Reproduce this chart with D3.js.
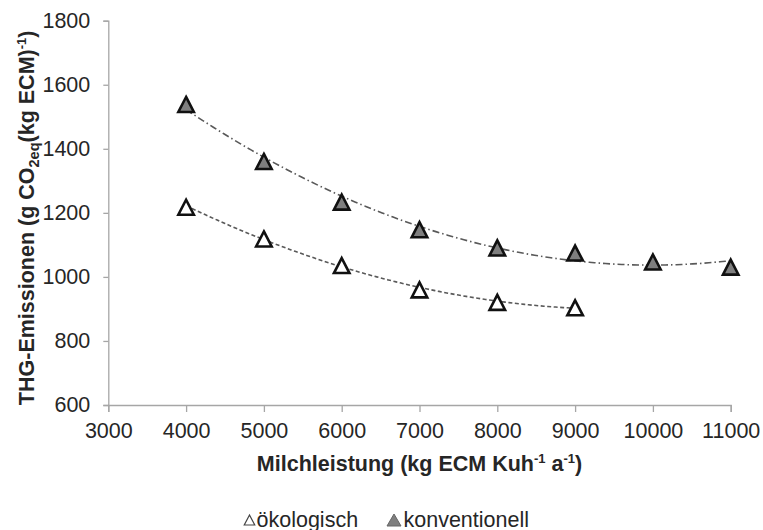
<!DOCTYPE html>
<html>
<head>
<meta charset="utf-8">
<script src="https://cdn.jsdelivr.net/npm/d3@7"></script>
<style>
  html, body { margin: 0; padding: 0; background: #fff; }
  svg { display: block; font-family: "Liberation Sans", Arial, sans-serif; }
</style>
</head>
<body>
<div id="chart"></div>
<script>
// ---- data ----
const milkYield = [4000, 5000, 6000, 7000, 8000, 9000, 10000, 11000];
const oekologisch = [1219, 1120, 1037, 961, 922, 905];
const konventionell = [1540, 1362, 1235, 1149, 1092, 1076, 1048, 1032];
const xTicks = [3000, 4000, 5000, 6000, 7000, 8000, 9000, 10000, 11000];
const yTicks = [600, 800, 1000, 1200, 1400, 1600, 1800];
const seriesNames = ["ökologisch", "konventionell"];

const W = 763, H = 530;
const svg = d3.select("#chart").append("svg").attr("width", W).attr("height", H);
svg.append("rect").attr("width", W).attr("height", H).attr("fill", "#fff");

const x = d3.scaleLinear().domain([3000, 11000]).range([108.3, 730.7]);
const y = d3.scaleLinear().domain([600, 1800]).range([405, 20.7]);

const textColor = "#262626";
const axisColor = "#a6a6a6";

// axes
const xAxis = svg.append("g").attr("transform", `translate(0,${y(600)})`)
  .call(d3.axisBottom(x).tickValues(xTicks).tickSize(7).tickPadding(11).tickFormat(d3.format("d")));
const yAxis = svg.append("g").attr("transform", `translate(${x(3000)},0)`)
  .call(d3.axisLeft(y).tickValues(yTicks).tickSize(5).tickPadding(13).tickFormat(d3.format("d")));
[xAxis, yAxis].forEach(g => {
  g.select(".domain").attr("stroke", axisColor).attr("stroke-width", 1.3);
  g.selectAll(".tick line").attr("stroke", axisColor).attr("stroke-width", 1.3);
  g.selectAll(".tick text").attr("fill", textColor).style("font-size", "21.5px")
    .style("font-family", "'Liberation Sans', Arial, sans-serif");
});

// quadratic least-squares trend (Excel polynomial order 2)
function quadFit(xs, ys) {
  const n = xs.length;
  const mx = d3.mean(xs);
  const u = xs.map(v => (v - mx) / 1000);
  let s = [0,0,0,0,0], t = [0,0,0];
  for (let i = 0; i < n; i++) {
    for (let k = 0; k < 5; k++) s[k] += Math.pow(u[i], k);
    for (let k = 0; k < 3; k++) t[k] += ys[i] * Math.pow(u[i], k);
  }
  const A = [[s[0], s[1], s[2], t[0]], [s[1], s[2], s[3], t[1]], [s[2], s[3], s[4], t[2]]];
  for (let i = 0; i < 3; i++) {
    for (let j = i + 1; j < 3; j++) {
      const f = A[j][i] / A[i][i];
      for (let k = i; k < 4; k++) A[j][k] -= f * A[i][k];
    }
  }
  const c = [0,0,0];
  for (let i = 2; i >= 0; i--) {
    let v = A[i][3];
    for (let k = i + 1; k < 3; k++) v -= A[i][k] * c[k];
    c[i] = v / A[i][i];
  }
  return xv => { const w = (xv - mx) / 1000; return c[0] + c[1] * w + c[2] * w * w; };
}

const series = [
  { name: seriesNames[0], xs: milkYield.slice(0, oekologisch.length), ys: oekologisch,
    fill: "#ffffff", dash: "4,2.5" },
  { name: seriesNames[1], xs: milkYield, ys: konventionell,
    fill: "#7f7f7f", dash: "7,3,1.5,3" }
];

const line = d3.line().x(d => x(d[0])).y(d => y(d[1])).curve(d3.curveLinear);

series.forEach(s => {
  const f = quadFit(s.xs, s.ys);
  const x0 = d3.min(s.xs), x1 = d3.max(s.xs);
  const pts = d3.range(0, 101).map(i => { const xv = x0 + (x1 - x0) * i / 100; return [xv, f(xv)]; });
  svg.append("path").datum(pts).attr("d", line)
    .attr("fill", "none").attr("stroke", "#595959").attr("stroke-width", 1.6)
    .attr("stroke-dasharray", s.dash);
});

function triPath(w, h) {
  return `M0,${-h / 2}L${w / 2},${h / 2}L${-w / 2},${h / 2}Z`;
}

series.forEach(s => {
  svg.append("g").selectAll("path").data(s.xs.map((xv, i) => [xv, s.ys[i]])).join("path")
    .attr("d", triPath(15.5, 15))
    .attr("transform", d => `translate(${x(d[0])},${y(d[1]) + 0.5})`)
    .attr("fill", s.fill).attr("stroke", "#111").attr("stroke-width", 2.6)
    .attr("stroke-linejoin", "miter");
});

// axis titles
svg.append("text")
  .attr("x", (x(3000) + x(11000)) / 2).attr("y", 471)
  .attr("text-anchor", "middle").attr("fill", textColor)
  .style("font-size", "21.5px").style("font-weight", "bold")
  .call(t => {
    t.append("tspan").text("Milchleistung (kg ECM Kuh");
    t.append("tspan").attr("dy", -8).style("font-size", "13px").text("-1");
    t.append("tspan").attr("dy", 8).text(" a");
    t.append("tspan").attr("dy", -8).style("font-size", "13px").text("-1");
    t.append("tspan").attr("dy", 8).text(")");
  });

svg.append("text")
  .attr("transform", `translate(34,${(y(600) + y(1800)) / 2 + 5}) rotate(-90)`)
  .attr("text-anchor", "middle").attr("fill", textColor)
  .style("font-size", "21.5px").style("font-weight", "bold")
  .call(t => {
    t.append("tspan").text("THG-Emissionen (g CO");
    t.append("tspan").attr("dy", 5).style("font-size", "14.5px").text("2eq");
    t.append("tspan").attr("dy", -5).text("(kg ECM)");
    t.append("tspan").attr("dy", -8).style("font-size", "13px").text("-1");
    t.append("tspan").attr("dy", 8).text(")");
  });

// legend
const legend = svg.append("g");
const legendItems = [
  { name: seriesNames[0], sx: 249.5, tx: 256.5, fill: "#fff", stroke: "#444", sw: 1.2, w: 10.5, h: 10 },
  { name: seriesNames[1], sx: 394, tx: 403.5, fill: "#7f7f7f", stroke: "#666", sw: 1, w: 14, h: 12 }
];
legendItems.forEach(it => {
  legend.append("path").attr("d", triPath(it.w, it.h))
    .attr("transform", `translate(${it.sx},${520})`)
    .attr("fill", it.fill).attr("stroke", it.stroke).attr("stroke-width", it.sw);
  legend.append("text").attr("x", it.tx).attr("y", 526.5)
    .attr("fill", textColor).style("font-size", "21.5px").text(it.name);
});
</script>
</body>
</html>
